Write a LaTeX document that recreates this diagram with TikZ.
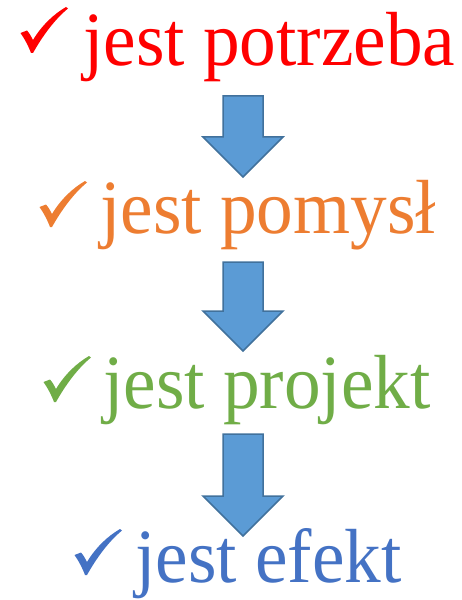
\documentclass[tikz,border=0pt]{standalone}
\usepackage{fontspec}
\setmainfont{Liberation Serif}
\newfontfamily\tnr{Liberation Serif}[FakeStretch=0.955]
\definecolor{cred}{HTML}{FF0000}
\definecolor{corange}{HTML}{ED7D31}
\definecolor{cgreen}{HTML}{70AD47}
\definecolor{cblue}{HTML}{4472C4}
\definecolor{afill}{HTML}{5B9BD5}
\definecolor{aline}{HTML}{41719C}
\tikzset{
  linetext/.style={anchor=base west, inner sep=0pt, font=\tnr\fontsize{77}{80}\selectfont},
  blockarrow/.style={fill=afill, draw=aline, line width=1.5bp, line join=miter}
}
\newcommand\downarrowshape[3]{% name, top y, head y
  \draw[blockarrow] (223,#2) coordinate (#1) -- (263,#2) -- (263,#3) -- (283,#3)
    -- (243,#3+40) -- (203,#3) -- (223,#3) -- cycle;}
\newcommand\tickmark[3]{% x, y (top-left), colour
  \fill[#3, shift={(#1,#2)}] (0.5,26) -- (7,23.5) .. controls (10,27) and (11.5,30) .. (13,33)
    .. controls (22,18) and (34,7) .. (46,0) -- (48,1.5)
    .. controls (34,13) and (22,30) .. (13,46) -- (11,46)
    .. controls (8,38) and (4,31) .. (0.5,26) -- cycle;}
\begin{document}
\begin{tikzpicture}[x=1bp,y=-1bp]
\useasboundingbox (0,0) rectangle (462,600);
\tickmark{20}{7}{cred}
\node[linetext, text=cred] (t1) at (83,66) {jest potrzeba};
\downarrowshape{a1}{96}{137}
\tickmark{39}{181}{corange}
\node[linetext, text=corange] (t2) at (100,233) {jest pomysł};
\downarrowshape{a2}{262}{311}
\tickmark{43}{356}{cgreen}
\node[linetext, text=cgreen] (t3) at (103,408) {jest projekt};
\downarrowshape{a3}{434}{496}
\tickmark{74}{529}{cblue}
\node[linetext, text=cblue] (t4) at (135,582) {jest efekt};
\end{tikzpicture}
\end{document}
